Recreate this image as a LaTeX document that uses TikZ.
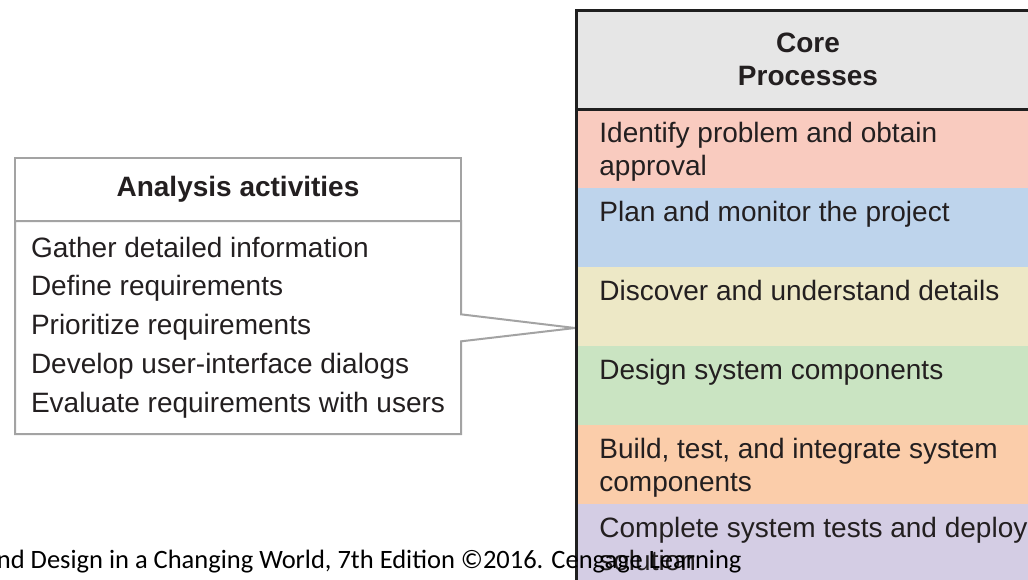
\documentclass[tikz,border=0pt]{standalone}
\usepackage{fontspec}
\setmainfont{Liberation Sans}
\newfontfamily\creditfont{Carlito}
\usetikzlibrary{positioning, shapes.callouts}

\definecolor{coregray}{HTML}{E6E6E6}
\definecolor{bandpink}{HTML}{F9CBBF}
\definecolor{bandblue}{HTML}{BED4EC}
\definecolor{bandyellow}{HTML}{EDE8C6}
\definecolor{bandgreen}{HTML}{CAE4C2}
\definecolor{bandorange}{HTML}{FBCDAA}
\definecolor{bandpurple}{HTML}{D4CDE4}
\definecolor{boxgray}{HTML}{A3A3A3}
\definecolor{coreedge}{HTML}{1F1F1F}
\definecolor{inkdark}{HTML}{231F20}

\begin{document}
\begin{tikzpicture}[x=0.5pt, y=-0.5pt, node distance=0pt]
    \tikzstyle{headbox} = [rectangle, draw=boxgray, line width=1pt, outer sep=0pt, minimum width=223pt, minimum height=31.5pt, text centered, text=inkdark, font=\bfseries\fontsize{14}{16.5}\selectfont]
    \tikzstyle{listbox} = [rectangle callout, draw=boxgray, line width=1pt, outer sep=0pt, minimum width=223pt, minimum height=106.5pt, align=left, text=inkdark, callout pointer width=13.5pt, font=\fontsize{14}{19.4}\selectfont]
    \tikzstyle{corebox} = [rectangle, fill=coregray, outer sep=0pt, minimum width=232pt, minimum height=49.5pt, align=center, text=inkdark, font=\bfseries\fontsize{14}{16.5}\selectfont]
    \tikzstyle{bandbox} = [rectangle, inner sep=0pt, outer sep=0pt, minimum width=232pt, minimum height=39.5pt, anchor=north west]
    \tikzstyle{bandtext} = [anchor=north west, inner sep=0pt, align=left, text=inkdark, font=\fontsize{14}{16.75}\selectfont]
    \tikzstyle{edge} = [draw=coreedge, line width=1.5pt]

    \useasboundingbox (0,0) rectangle (1028,579);

    % Analysis activities
    \node (acthead) [headbox] at (238,189.5) {Analysis activities};
    \node (actlist) [listbox, below=of acthead, callout absolute pointer={(575,328)}] {Gather detailed information\\Define requirements\\Prioritize requirements\\Develop user-interface dialogs\\Evaluate requirements with users};

    % Core processes
    \node (corehead) [corebox, anchor=north west] at (576,10) {Core\\Processes};
    \node (band1) [bandbox, fill=bandpink] at (corehead.south west) {};
    \node (band2) [bandbox, fill=bandblue, below=of band1] {};
    \node (band3) [bandbox, fill=bandyellow, below=of band2] {};
    \node (band4) [bandbox, fill=bandgreen, below=of band3] {};
    \node (band5) [bandbox, fill=bandorange, below=of band4] {};
    \node (band6) [bandbox, fill=bandpurple, below=of band5] {};
    \draw [edge] (band6.south west) -- (corehead.north west) -- (corehead.north east) -- (band6.south east);
    \draw [edge] (corehead.south west) -- (corehead.south east);

    \node (task1) [bandtext] at ([shift={(23,12.5)}]band1.north west) {Identify problem and obtain\\approval};
    \node (task2) [bandtext] at ([shift={(23,12.5)}]band2.north west) {Plan and monitor the project};
    \node (task3) [bandtext] at ([shift={(23,12.5)}]band3.north west) {Discover and understand details};
    \node (task4) [bandtext] at ([shift={(23,12.5)}]band4.north west) {Design system components};
    \node (task5) [bandtext] at ([shift={(23,12.5)}]band5.north west) {Build, test, and integrate system\\components};
    \node (task6) [bandtext] at ([shift={(23,12.5)}]band6.north west) {Complete system tests and deploy\\solution};

    \node (credit) [anchor=base east, inner sep=0pt, font=\creditfont\fontsize{13.25}{15}\selectfont] at (742,568) {nd Design in a Changing World, 7th Edition ©2016. Cengage Learning};
\end{tikzpicture}
\end{document}
